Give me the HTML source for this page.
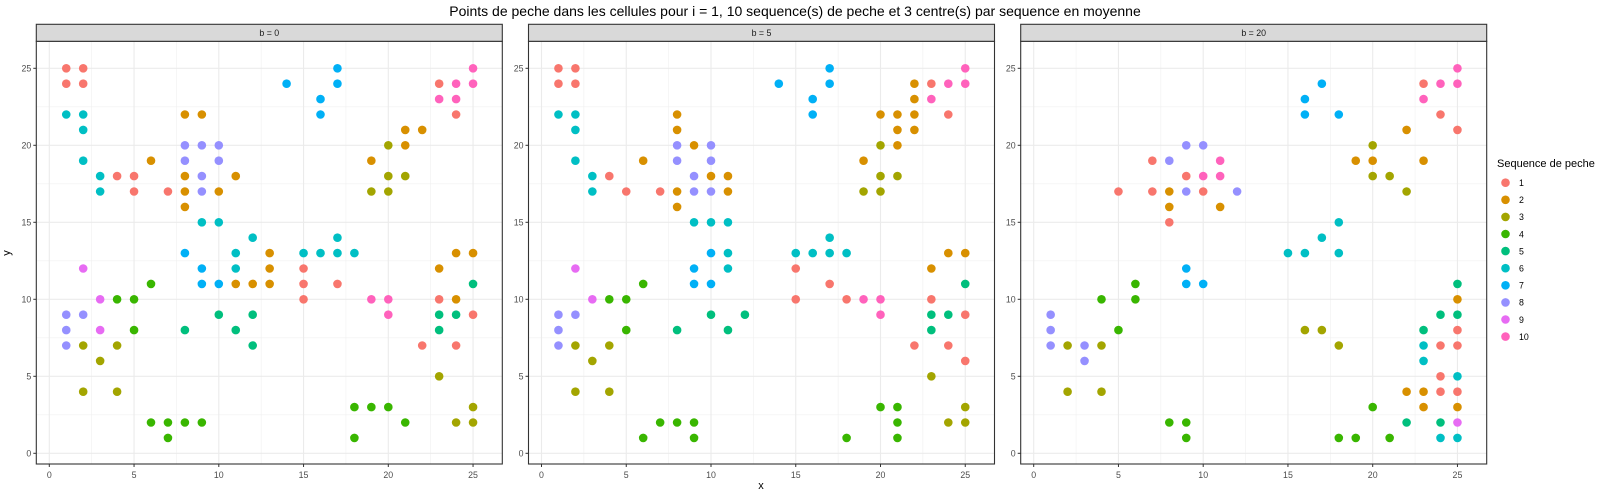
<!DOCTYPE html>
<html>
<head>
<meta charset="utf-8">
<style>
  html,body{margin:0;padding:0;background:#fff;}
  svg{display:block;font-family:"Liberation Sans",Arial,sans-serif;}
</style>
</head>
<body>
<svg id="chart" width="1600" height="500" viewBox="0 0 1600 500" xmlns="http://www.w3.org/2000/svg">
  <rect width="1600" height="500" fill="#ffffff"/>
  <text x="795" y="16" font-size="14" text-anchor="middle" fill="#000">Points de peche dans les cellules pour i = 1, 10 sequence(s) de peche et 3 centre(s) par sequence en moyenne</text>
  <text x="761" y="489" font-size="11" text-anchor="middle" fill="#000">x</text>
  <text x="10" y="253" font-size="11" text-anchor="middle" fill="#000" transform="rotate(-90 10 253)">y</text>
  <g id="panels"></g>
  <g id="legend"></g>
</svg>
<script>
const facetLabels = ["b = 0", "b = 5", "b = 20"];
const seqLabels = ["1","2","3","4","5","6","7","8","9","10"];
const seqColors = ["#F8766D","#D89000","#A3A500","#39B600","#00BF7D","#00BFC4","#00B0F6","#9590FF","#E76BF3","#FF62BC"];
const xTicks = [0,5,10,15,20,25];
const yTicks = [0,5,10,15,20,25];

const panel_b0 = [
 [[1,25],[2,25],[1,24],[2,24],[4,18],[5,18],[5,17],[7,17],[15,12],[15,11],[17,11],[15,10],[23,10],[23,24],[24,22],[25,9],[22,7],[24,7]],
 [[8,22],[9,22],[6,19],[8,18],[11,18],[8,17],[10,17],[8,16],[11,11],[12,11],[13,13],[13,12],[13,11],[21,21],[22,21],[21,20],[19,19],[24,13],[25,13],[23,12],[24,10]],
 [[2,7],[4,7],[3,6],[2,4],[4,4],[20,20],[20,18],[21,18],[19,17],[20,17],[23,5],[25,3],[24,2],[25,2]],
 [[4,10],[5,10],[6,11],[5,8],[6,2],[7,2],[8,2],[9,2],[7,1],[18,3],[19,3],[20,3],[21,2],[18,1]],
 [[10,9],[12,9],[8,8],[11,8],[12,7],[25,11],[23,9],[24,9],[23,8]],
 [[1,22],[2,22],[2,21],[2,19],[3,18],[3,17],[9,15],[10,15],[12,14],[11,13],[11,12],[17,14],[15,13],[16,13],[17,13],[18,13]],
 [[8,13],[9,12],[9,11],[10,11],[17,25],[14,24],[17,24],[16,23],[16,22]],
 [[8,20],[9,20],[10,20],[8,19],[10,19],[9,18],[9,17],[1,9],[2,9],[1,8],[1,7]],
 [[2,12],[3,10],[3,8]],
 [[25,25],[24,24],[25,24],[23,23],[24,23],[19,10],[20,10],[20,9]]
];
const panel_b5 = [
 [[1,25],[2,25],[1,24],[2,24],[4,18],[5,17],[7,17],[23,24],[24,22],[15,12],[17,11],[15,10],[18,10],[23,10],[25,9],[22,7],[24,7],[25,6]],
 [[8,22],[8,21],[9,20],[6,19],[10,18],[11,18],[8,17],[11,17],[8,16],[22,24],[22,23],[20,22],[21,22],[22,22],[21,21],[22,21],[21,20],[19,19],[24,13],[25,13],[23,12]],
 [[2,7],[4,7],[3,6],[2,4],[4,4],[20,20],[20,18],[21,18],[19,17],[20,17],[23,5],[25,3],[24,2],[25,2]],
 [[4,10],[5,10],[6,11],[5,8],[7,2],[8,2],[9,2],[6,1],[9,1],[20,3],[21,3],[21,2],[18,1],[21,1]],
 [[10,9],[12,9],[8,8],[11,8],[25,11],[23,9],[24,9],[23,8]],
 [[1,22],[2,22],[2,21],[2,19],[3,18],[3,17],[9,15],[10,15],[11,15],[11,13],[11,12],[17,14],[15,13],[16,13],[17,13],[18,13]],
 [[10,13],[9,12],[9,11],[10,11],[17,25],[14,24],[17,24],[16,23],[16,22]],
 [[8,20],[10,20],[8,19],[10,19],[9,18],[9,17],[10,17],[1,9],[2,9],[1,8],[1,7]],
 [[2,12],[3,10]],
 [[25,25],[24,24],[25,24],[23,23],[19,10],[20,10],[20,9]]
];
const panel_b20 = [
 [[7,19],[5,17],[7,17],[9,18],[10,17],[8,15],[23,24],[24,22],[25,21],[25,8],[24,7],[25,7],[24,5],[24,4],[25,4]],
 [[8,17],[8,16],[11,16],[22,21],[19,19],[20,19],[23,19],[25,10],[22,4],[23,4],[23,3],[25,3]],
 [[2,7],[4,7],[2,4],[4,4],[20,20],[20,18],[21,18],[22,17],[16,8],[17,8],[18,7]],
 [[4,10],[5,8],[6,11],[6,10],[8,2],[9,2],[9,1],[20,3],[18,1],[19,1],[21,1]],
 [[25,11],[24,9],[25,9],[23,8],[22,2],[24,2]],
 [[18,15],[17,14],[15,13],[16,13],[18,13],[23,7],[23,6],[25,5],[24,1],[25,1]],
 [[9,12],[9,11],[10,11],[17,24],[16,23],[16,22],[18,22]],
 [[1,9],[1,8],[1,7],[3,7],[3,6],[9,20],[10,20],[8,19],[9,17],[12,17]],
 [[25,2]],
 [[10,18],[11,19],[11,18],[25,25],[24,24],[25,24],[23,23]]
];
const panels = [panel_b0, panel_b5, panel_b20];

const NS = "http://www.w3.org/2000/svg";
const root = document.getElementById('panels');
const PW = 466, PTOP = 41.3, PBOT = 464, STRIPTOP = 24.3;
function mk(tag, attrs, parent){
  const e = document.createElementNS(NS, tag);
  for (const k in attrs) e.setAttribute(k, attrs[k]);
  parent.appendChild(e); return e;
}
function panelLeft(i){ return 36.3 + i*492.2; }
function xScale(i, v){ return panelLeft(i) + 13 + v*16.95; }
function yScale(v){ return 453.3 - v*15.4; }

panels.forEach((data, i) => {
  const L = panelLeft(i);
  const g = mk('g', {}, root);
  
  
  // background
  mk('rect', {x:L, y:PTOP, width:PW, height:PBOT-PTOP, fill:'#fff'}, g);
  // minor grid
  [2.5,7.5,12.5,17.5,22.5].forEach(v => {
    mk('line', {x1:xScale(i,v), x2:xScale(i,v), y1:PTOP, y2:PBOT, stroke:'#F0F0F0', 'stroke-width':0.6}, g);
    mk('line', {x1:L, x2:L+PW, y1:yScale(v), y2:yScale(v), stroke:'#F0F0F0', 'stroke-width':0.6}, g);
  });
  // major grid
  xTicks.forEach(v => mk('line', {x1:xScale(i,v), x2:xScale(i,v), y1:PTOP, y2:PBOT, stroke:'#EBEBEB', 'stroke-width':1.1}, g));
  yTicks.forEach(v => mk('line', {x1:L, x2:L+PW, y1:yScale(v), y2:yScale(v), stroke:'#EBEBEB', 'stroke-width':1.1}, g));
  // points
  data.forEach((pts, s) => {
    pts.forEach(p => {
      const c = mk('circle', {cx:xScale(i,p[0]), cy:yScale(p[1]), r:4.3, fill:seqColors[s]}, g);
      
      
    });
  });
  // border
  mk('rect', {x:L, y:PTOP, width:PW, height:PBOT-PTOP, fill:'none', stroke:'#333333', 'stroke-width':1.1}, g);
  // strip
  const strip = mk('rect', {x:L, y:STRIPTOP, width:PW, height:PTOP-STRIPTOP, fill:'#D9D9D9', stroke:'#333333', 'stroke-width':1.1}, g);
  
  
  const st = mk('text', {x:L+PW/2, y:36, 'font-size':8.8, 'text-anchor':'middle', fill:'#1a1a1a'}, g);
  st.textContent = facetLabels[i];
  
  
  // x ticks
  xTicks.forEach(v => {
    mk('line', {x1:xScale(i,v), x2:xScale(i,v), y1:PBOT, y2:PBOT+3, stroke:'#333', 'stroke-width':1}, g);
    const t = mk('text', {x:xScale(i,v), y:478, 'font-size':8.8, 'text-anchor':'middle', fill:'#4D4D4D'}, g);
    t.textContent = String(v);
    
    
  });
  // y ticks
  yTicks.forEach(v => {
    mk('line', {x1:L-3, x2:L, y1:yScale(v), y2:yScale(v), stroke:'#333', 'stroke-width':1}, g);
    const t = mk('text', {x:L-5, y:yScale(v)+3.2, 'font-size':8.8, 'text-anchor':'end', fill:'#4D4D4D'}, g);
    t.textContent = String(v);
    
    
  });
});

// legend
const lg = document.getElementById('legend');
const lt = mk('text', {x:1497, y:167, 'font-size':11, fill:'#000'}, lg);
lt.textContent = 'Sequence de peche';


seqLabels.forEach((lab, s) => {
  const cy = 182.7 + s*17.1;
  const eg = mk('g', {}, lg);
  
  
  mk('circle', {cx:1505.5, cy:cy, r:4.3, fill:seqColors[s]}, eg);
  const t = mk('text', {x:1519, y:cy+3.3, 'font-size':8.8, fill:'#000'}, eg);
  t.textContent = lab;
});
</script>
</body>
</html>
